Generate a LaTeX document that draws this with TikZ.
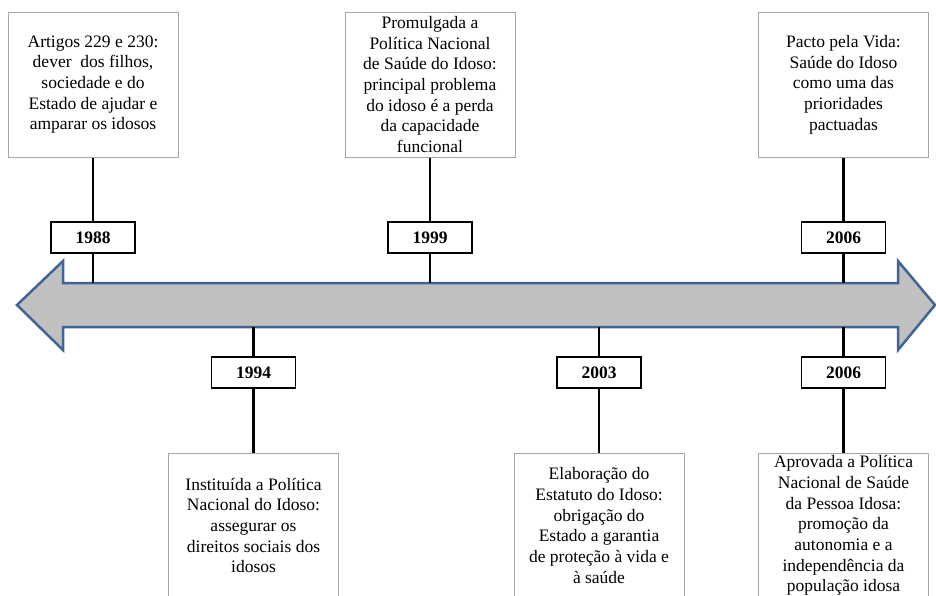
\documentclass[tikz,border=0pt]{standalone}
\usepackage{fontspec}
\setmainfont{Liberation Serif}
\usepackage{tikz}
\tikzset{>=latex}
\definecolor{arrowfill}{RGB}{192,192,192}
\definecolor{arrowline}{RGB}{65,100,150}
\tikzset{
    event/.style={draw=gray!70, line width=1pt, fill=white, minimum width=170pt, minimum height=145pt, align=center, inner sep=2pt, font=\rmfamily\fontsize{17.5}{20.7}\selectfont},
    year/.style={draw=black, line width=1.2pt, fill=white, minimum width=84pt, minimum height=31pt, inner sep=0pt, font=\rmfamily\fontsize{17.5}{20}\selectfont\bfseries},
    link/.style={line width=2.2pt, black}
}

\begin{document}
\begin{tikzpicture}[x=1pt, y=-1pt]
    \useasboundingbox (0, 0) rectangle (936, 595);
    % double arrow
    \draw[line width=2.5pt, draw=arrowline, fill=arrowfill, line join=miter]
        (17, 305)--(63, 261)--(63, 283)--(898, 283)--(898, 261)--(935, 305)
        --(898, 350)--(898, 327)--(63, 327)--(63, 350)--cycle;
    % points on the shaft
    \coordinate (t88) at (93, 283);
    \coordinate (t99) at (430, 283);
    \coordinate (t06a) at (843.5, 283);
    \coordinate (b94) at (253.5, 327);
    \coordinate (b03) at (599, 327);
    \coordinate (b06b) at (843.5, 327);
    % above
    \node[event] (ev88) at (93, 84.5) {Artigos 229 e 230:\\dever\ \ dos filhos,\\sociedade e do\\Estado de ajudar e\\amparar os idosos};
    \node[event] (ev99) at (430, 84.5) {Promulgada a\\Política Nacional\\de Saúde do Idoso:\\principal problema\\do idoso é a perda\\da capacidade\\funcional};
    \node[event] (ev06a) at (843.5, 84.5) {Pacto pela Vida:\\Saúde do Idoso\\como uma das\\prioridades\\pactuadas};
    \node[year] (yr88) at (93, 237.5) {1988};
    \node[year] (yr99) at (430, 237.5) {1999};
    \node[year] (yr06a) at (843.5, 237.5) {2006};
    % below
    \node[year] (yr94) at (253.5, 372.5) {1994};
    \node[year] (yr03) at (599, 372.5) {2003};
    \node[year] (yr06b) at (843.5, 372.5) {2006};
    \node[event] (ev94) at (253.5, 525.5) {Instituída a Política\\Nacional do Idoso:\\assegurar os\\direitos sociais dos\\idosos};
    \node[event] (ev03) at (599, 525.5) {Elaboração do\\Estatuto do Idoso:\\obrigação do\\Estado a garantia\\de proteção à vida e\\à saúde};
    \node[event] (ev06b) at (843.5, 525.5) {Aprovada a Política\\Nacional de Saúde\\da Pessoa Idosa:\\promoção da\\autonomia e a\\independência da\\população idosa};
    % links
    \foreach \y in {88, 99, 06a}{
        \draw[link] (ev\y) -- (yr\y);
        \draw[link] (yr\y) -- (t\y);
    }
    \foreach \y in {94, 03, 06b}{
        \draw[link] (b\y) -- (yr\y);
        \draw[link] (yr\y) -- (ev\y);
    }
\end{tikzpicture}
\end{document}
